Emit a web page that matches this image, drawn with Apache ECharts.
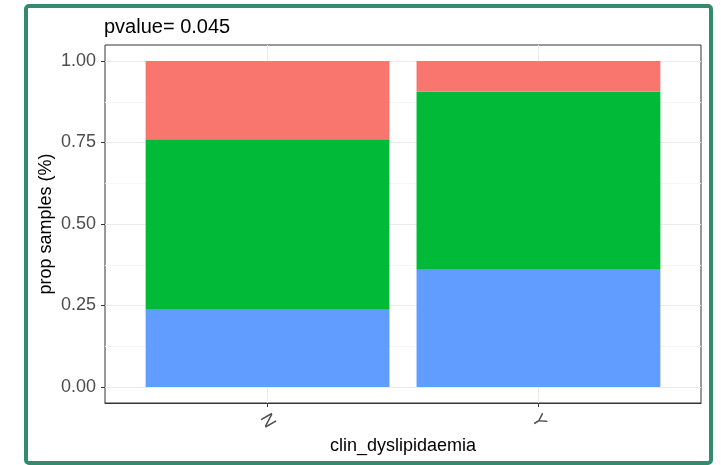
<!DOCTYPE html>
<html>
<head>
<meta charset="utf-8">
<script src="https://cdn.jsdelivr.net/npm/echarts@6/dist/echarts.min.js"></script>
<style>
  html, body { margin: 0; padding: 0; background: #fff; }
  #main { width: 721px; height: 465px; }
</style>
</head>
<body>
<div id="main"></div>
<script>
// 数据
var categories = ['N', 'Y'];
var categoryPos = [1, 2];
// 堆叠顺序：下 -> 上
var groupNames = ['group 3', 'group 2', 'group 1'];
var groupColors = ['#619CFF', '#00BA38', '#F8766D'];
var group3 = [0.237, 0.360];
var group2 = [0.523, 0.546];
var group1 = [0.240, 0.094];
var pvalueText = 'pvalue= 0.045';

var font = "'Liberation Sans', Arial, sans-serif";
var myChart = echarts.init(document.getElementById('main'));

// 离散轴范围 (ggplot 默认扩展 0.6)
var xMin = 0.4, xMax = 2.6;
var plotLeft = 105, plotRight = 20;
var plotWidth = 721 - plotLeft - plotRight;
var unit = plotWidth / (xMax - xMin);
// 柱子所在网格：每个类别正好一个单位宽
var barLeft = plotLeft + (1 - 0.5 - xMin) * unit;
var barRight = plotRight + (xMax - 2 - 0.5) * unit;

var seriesData = [group3, group2, group1];
var series = [];
for (let i = 0; i < seriesData.length; i++) {
    series.push({
        name: groupNames[i],
        type: 'bar',
        stack: 'total',
        xAxisIndex: 2,
        yAxisIndex: 2,
        barWidth: '90%',
        itemStyle: { color: groupColors[i] },
        data: seriesData[i]
    });
}

var option = {
    backgroundColor: '#fff',
    animation: false,
    textStyle: { fontFamily: font },
    title: {
        text: pvalueText,
        left: 99,
        top: 12,
        textStyle: { fontSize: 20, fontWeight: 'normal', color: '#000', fontFamily: font }
    },
    // 外框
    graphic: [{
        type: 'rect',
        shape: { x: 26, y: 6, width: 685, height: 457, r: 3 },
        style: { fill: 'none', stroke: '#338A6E', lineWidth: 4 },
        z: 100
    }],
    grid: [
        // 面板（含扩展）
        { left: plotLeft, right: plotRight, top: 45, bottom: 62, show: true, borderColor: '#333', borderWidth: 1, backgroundColor: '#fff' },
        // y 轴 0..1
        { left: plotLeft, right: plotRight, top: 61, bottom: 78 },
        // 柱子
        { left: barLeft, right: barRight, top: 61, bottom: 78 }
    ],
    xAxis: [
        {
            type: 'value',
            gridIndex: 0,
            min: xMin,
            max: xMax,
            name: 'clin_dyslipidaemia',
            nameLocation: 'middle',
            nameGap: 34,
            nameMoveOverlap: false,
            nameTextStyle: { fontSize: 18, color: '#000', fontFamily: font },
            axisLine: { show: true, onZero: false, lineStyle: { color: '#333' } },
            axisTick: { show: true, length: 4, customValues: categoryPos, lineStyle: { color: '#333' } },
            axisLabel: {
                rotate: -60, fontSize: 18, color: '#4D4D4D', margin: 18, fontFamily: font,
                align: 'center', verticalAlign: 'middle',
                customValues: categoryPos,
                formatter: function (v) { return categories[Math.round(v) - 1]; }
            },
            splitLine: { show: true, lineStyle: { color: '#EBEBEB', width: 1 } }
        },
        { type: 'value', gridIndex: 1, min: xMin, max: xMax, show: false },
        { type: 'category', gridIndex: 2, data: categories, show: false }
    ],
    yAxis: [
        { type: 'value', gridIndex: 0, min: -0.05, max: 1.05, show: false },
        {
            type: 'value',
            gridIndex: 1,
            min: 0,
            max: 1,
            interval: 0.25,
            name: 'prop samples (%)',
            nameLocation: 'middle',
            nameGap: 50,
            nameMoveOverlap: false,
            nameTextStyle: { fontSize: 18, color: '#000', fontFamily: font },
            axisLine: { show: false },
            axisTick: { show: true, length: 4, lineStyle: { color: '#333' } },
            axisLabel: {
                fontSize: 18, color: '#4D4D4D', margin: 9, fontFamily: font,
                formatter: function (v) { return v.toFixed(2); }
            },
            splitLine: { show: true, lineStyle: { color: '#EBEBEB', width: 1 } },
            minorTick: { show: false, splitNumber: 2 },
            minorSplitLine: { show: true, lineStyle: { color: '#F5F5F5', width: 1 } }
        },
        { type: 'value', gridIndex: 2, min: 0, max: 1, show: false }
    ],
    series: series
};

myChart.setOption(option);
</script>
</body>
</html>
